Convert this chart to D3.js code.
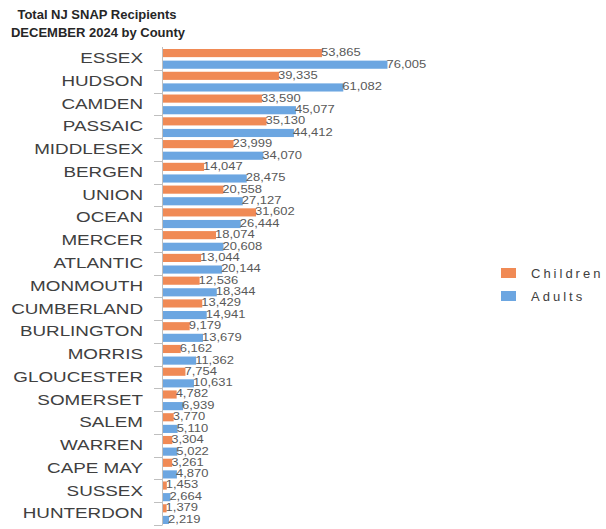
<!DOCTYPE html>
<html lang="en">
<head>
  <meta charset="UTF-8" />
  <title>Total NJ SNAP Recipients</title>
  <script src="https://d3js.org/d3.v7.min.js"></script>
  <style>
    body { margin: 0; background: #fff; font-family: 'Liberation Sans', Arial, sans-serif; }
    svg { display: block; }
    .county { font-size: 14.5px; fill: #404040; }
    .val { font-size: 10px; fill: #595959; }
    .title { font-size: 13px; font-weight: bold; fill: #262626; }
    .legend text { font-size: 13px; fill: #404040; letter-spacing: 3px; }
  </style>
</head>
<body>
<svg width="606" height="529"></svg>
<script>
  const counties = ["ESSEX", "HUDSON", "CAMDEN", "PASSAIC", "MIDDLESEX", "BERGEN", "UNION", "OCEAN",
    "MERCER", "ATLANTIC", "MONMOUTH", "CUMBERLAND", "BURLINGTON", "MORRIS", "GLOUCESTER",
    "SOMERSET", "SALEM", "WARREN", "CAPE MAY", "SUSSEX", "HUNTERDON"];
  const children = [53865, 39335, 33590, 35130, 23999, 14047, 20558, 31602, 18074, 13044, 12536,
    13429, 9179, 6162, 7754, 4782, 3770, 3304, 3261, 1453, 1379];
  const adults = [76005, 61082, 45077, 44412, 34070, 28475, 27127, 26444, 20608, 20144, 18344,
    14941, 13679, 11362, 10631, 6939, 5110, 5022, 4870, 2664, 2219];
  const seriesNames = ["Children", "Adults"];
  const colors = { Children: "#F08A55", Adults: "#6CA6E1" };

  const svg = d3.select("svg");

  const x = d3.scaleLinear().domain([0, 80000]).range([162.5, 399.3]);
  const y = d3.scaleBand().domain(counties).range([47, 525]);
  const sub = d3.scaleBand().domain(seriesNames).range([2, y.bandwidth() - 1]).paddingInner(0.3);

  // title
  svg.append("text").attr("class", "title").attr("x", 97).attr("y", 19)
    .attr("text-anchor", "middle").text("Total NJ SNAP Recipients");
  svg.append("text").attr("class", "title").attr("x", 98).attr("y", 37)
    .attr("text-anchor", "middle").text("DECEMBER 2024 by County");

  const rows = counties.map((c, i) => ({ county: c, Children: children[i], Adults: adults[i] }));

  const g = svg.append("g");

  const row = g.selectAll("g.row").data(rows).enter().append("g")
    .attr("class", "row")
    .attr("transform", d => `translate(0,${y(d.county)})`);

  row.selectAll("rect").data(d => seriesNames.map(s => ({ s, v: d[s] }))).enter().append("rect")
    .attr("x", x(0))
    .attr("y", d => sub(d.s))
    .attr("width", d => x(d.v) - x(0))
    .attr("height", sub.bandwidth())
    .attr("fill", d => colors[d.s]);

  // value labels are drawn a bit wide, like the original export
  row.selectAll("text.val").data(d => seriesNames.map(s => ({ s, v: d[s] }))).enter().append("text")
    .attr("class", "val")
    .attr("transform", d => `translate(${x(d.v) - 1},${sub(d.s) + sub.bandwidth() / 2 - 0.5}) scale(1.3,1)`)
    .attr("dominant-baseline", "central")
    .text(d => d3.format(",")(d.v));

  // county labels, stretched horizontally
  row.append("text").attr("class", "county")
    .attr("transform", `translate(143,${y.bandwidth() / 2}) scale(1.3,1)`)
    .attr("text-anchor", "end")
    .attr("dominant-baseline", "central")
    .text(d => d.county);

  // axis line and boundary ticks
  const axis = svg.append("g").attr("stroke", "#bfbfbf").attr("stroke-width", 1);
  axis.append("line").attr("x1", 162.5).attr("x2", 162.5).attr("y1", 47).attr("y2", 525);
  axis.selectAll("line.tick").data(counties.slice(1).concat(["end"])).enter().append("line")
    .attr("x1", 154).attr("x2", 162.5)
    .attr("y1", (d, i) => Math.round(y(counties[0]) + (i + 1) * y.step()) + 0.5)
    .attr("y2", (d, i) => Math.round(y(counties[0]) + (i + 1) * y.step()) + 0.5);

  // legend
  const legend = svg.append("g").attr("class", "legend");
  seriesNames.forEach((s, i) => {
    const ly = 268 + i * 23;
    legend.append("rect").attr("x", 501).attr("y", ly).attr("width", 15).attr("height", 10)
      .attr("fill", colors[s]);
    legend.append("text").attr("x", 531).attr("y", ly + 5).attr("dominant-baseline", "central").text(s);
  });
</script>
</body>
</html>
